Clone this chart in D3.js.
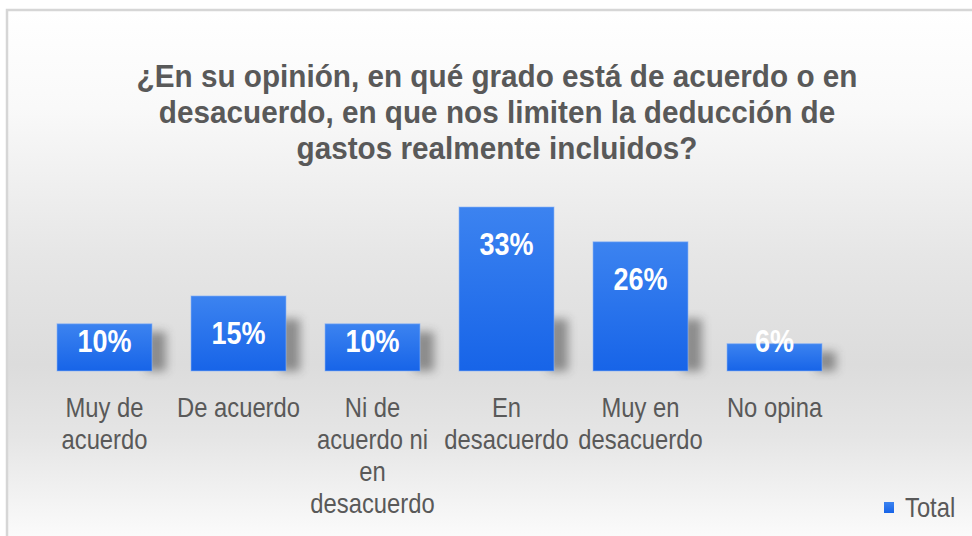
<!DOCTYPE html>
<html>
<head>
<meta charset="utf-8">
<script src="https://cdn.jsdelivr.net/npm/d3@7/dist/d3.min.js"></script>
<style>
  html, body { margin: 0; padding: 0; background: #ffffff; }
  svg { display: block; }
  text { font-family: "Liberation Sans", Arial, sans-serif; }
</style>
</head>
<body>
<svg id="chart" width="972" height="536"></svg>
<script>
// ---- data ----
const titleLines = [
  "¿En su opinión, en qué grado está de acuerdo o en",
  "desacuerdo, en que nos limiten la deducción de",
  "gastos realmente incluidos?"
];
const categories = [
  "Muy de acuerdo",
  "De acuerdo",
  "Ni de acuerdo ni en desacuerdo",
  "En desacuerdo",
  "Muy en desacuerdo",
  "No opina"
];
const values = [9.5, 15.1, 9.5, 33.0, 26.0, 5.5];
const valueLabels = ["10%", "15%", "10%", "33%", "26%", "6%"];
const seriesName = "Total";

// ---- setup ----
const W = 972, H = 536;
const svg = d3.select("#chart");
const defs = svg.append("defs");

const bg = defs.append("linearGradient").attr("id", "bgGrad")
  .attr("x1", 0).attr("y1", 0).attr("x2", 0).attr("y2", 1);
[[0, "#ffffff"], [0.18, "#f9f9f9"], [0.45, "#e6e6e6"], [0.65, "#dcdcdc"], [0.78, "#e5e5e5"], [1, "#ffffff"]]
  .forEach(([o, c]) => bg.append("stop").attr("offset", o).attr("stop-color", c));

const barGrad = defs.append("linearGradient").attr("id", "barGrad")
  .attr("x1", 0).attr("y1", 0).attr("x2", 0).attr("y2", 1);
[[0, "#3c83f0"], [1, "#1764e8"]]
  .forEach(([o, c]) => barGrad.append("stop").attr("offset", o).attr("stop-color", c));

const blur = defs.append("filter").attr("id", "shadowBlur")
  .attr("x", "-50%").attr("y", "-50%").attr("width", "200%").attr("height", "200%");
blur.append("feGaussianBlur").attr("stdDeviation", 5);

// chart area background + border
svg.append("rect").attr("x", 7).attr("y", 10).attr("width", W + 10).attr("height", H + 10)
  .attr("fill", "url(#bgGrad)").attr("stroke", "#d6d6d6").attr("stroke-width", 2.5);

// ---- scales ----
const x = d3.scaleBand().domain(categories).range([37.5, 841.5])
  .paddingInner(0.291).paddingOuter(0.1455);
const y = d3.scaleLinear().domain([0, 33]).range([371, 207]);

// condensed look (no narrow font installed): horizontal squeeze
const SX_TITLE = 0.928, SX_LABEL = 0.87, SX_AXIS = 0.85;

// ---- title ----
const title = svg.append("g").attr("transform", `translate(497,0) scale(${SX_TITLE},1)`)
  .append("text").attr("text-anchor", "middle")
  .attr("fill", "#595959").attr("font-weight", "bold").attr("font-size", 32);
titleLines.forEach((t, i) => {
  title.append("tspan").attr("x", 0).attr("y", 87 + i * 36).text(t);
});

// ---- shadows ----
const data = categories.map((c, i) => ({ c, v: values[i], label: valueLabels[i] }));
svg.append("g").selectAll("rect").data(data).join("rect")
  .attr("x", d => x(d.c) + x.bandwidth() - 6)
  .attr("y", d => y(0) - Math.min(y(0) - y(d.v), 60) + 8)
  .attr("width", 20)
  .attr("height", d => Math.min(y(0) - y(d.v), 60) - 8)
  .attr("fill", "#3a3a3a").attr("opacity", 0.5)
  .attr("filter", "url(#shadowBlur)");

// ---- bars ----
svg.append("g").selectAll("rect").data(data).join("rect")
  .attr("x", d => x(d.c))
  .attr("y", d => y(d.v))
  .attr("width", x.bandwidth())
  .attr("height", d => y(0) - y(d.v))
  .attr("fill", "url(#barGrad)")
  .attr("stroke", "#8db4f5").attr("stroke-width", 1).attr("stroke-opacity", 0.6);

// ---- value labels ----
svg.append("g").selectAll("text").data(data).join("text")
  .attr("transform", d =>
    `translate(${x(d.c) + x.bandwidth() / 2},${Math.min(y(d.v) + 48, y(0) - 19)}) scale(${SX_LABEL},1)`)
  .attr("text-anchor", "middle")
  .attr("fill", "#ffffff").attr("font-weight", "bold").attr("font-size", 31)
  .text(d => d.label);

// ---- category axis labels (wrapped to band step) ----
const axisG = svg.append("g").attr("transform", `translate(0, ${y(0)})`)
  .call(d3.axisBottom(x).tickSize(0).tickPadding(0));
axisG.select(".domain").remove();
axisG.selectAll(".tick text").each(function (d) {
  const el = d3.select(this);
  el.text(null).attr("fill", "#595959").attr("font-size", 28)
    .attr("font-family", null).attr("dy", null).attr("y", 0)
    .attr("transform", `scale(${SX_AXIS},1)`);
  const words = d.split(" ");
  const maxW = x.step() / SX_AXIS;
  let lines = [], cur = [];
  const probe = el.append("tspan");
  words.forEach(w => {
    const test = cur.concat([w]).join(" ");
    probe.text(test);
    if (probe.node().getComputedTextLength() > maxW && cur.length) {
      lines.push(cur.join(" "));
      cur = [w];
    } else cur.push(w);
  });
  lines.push(cur.join(" "));
  probe.remove();
  lines.forEach((l, i) => {
    el.append("tspan").attr("x", 0).attr("y", 46 + i * 32).text(l);
  });
});

// ---- legend ----
const lg = svg.append("g");
lg.append("rect").attr("x", 884).attr("y", 502).attr("width", 10).attr("height", 11)
  .attr("fill", "url(#barGrad)");
lg.append("g").attr("transform", `translate(905,517) scale(${SX_AXIS},1)`)
  .append("text").attr("fill", "#595959").attr("font-size", 28).text(seriesName);
</script>
</body>
</html>
